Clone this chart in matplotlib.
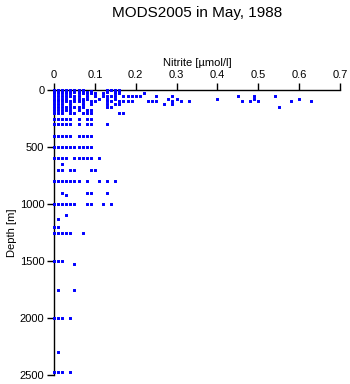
import matplotlib
matplotlib.use("Agg")
import matplotlib.pyplot as plt

plt.rcParams['font.family'] = ['Liberation Sans', 'DejaVu Sans']

title = "MODS2005 in May, 1988"
xlabel = "Nitrite [\u00b5mol/l]"
ylabel = "Depth [m]"
xticks = [0, 0.1, 0.2, 0.3, 0.4, 0.5, 0.6, 0.7]
xticklabels = ["0", "0.1", "0.2", "0.3", "0.4", "0.5", "0.6", "0.7"]
yticks = [0, 500, 1000, 1500, 2000, 2500]

# depth level (m) -> nitrite values (umol/l) observed at that level
depths = [0, 10, 20, 30, 50, 75, 100, 125, 150, 175, 200, 250, 300, 400, 500,
          600, 650, 700, 800, 900, 920, 1000, 1100, 1130, 1200, 1250, 1500,
          1530, 1750, 2000, 2300, 2470]
nitrite = [
    [0, 0.01, 0.02, 0.03, 0.04, 0.05, 0.06, 0.07, 0.13, 0.14, 0.15, 0.16],
    [0, 0.01, 0.02, 0.03, 0.04, 0.05, 0.06, 0.07, 0.09, 0.13, 0.15, 0.16],
    [0, 0.01, 0.02, 0.03, 0.04, 0.05, 0.06, 0.08, 0.09, 0.13, 0.15],
    [0, 0.01, 0.02, 0.03, 0.04, 0.06, 0.07, 0.08, 0.09, 0.10, 0.12, 0.15, 0.16, 0.22],
    [0, 0.01, 0.02, 0.03, 0.04, 0.05, 0.06, 0.08, 0.10, 0.12, 0.13, 0.14, 0.15,
     0.17, 0.18, 0.19, 0.20, 0.21, 0.25, 0.29, 0.45, 0.49, 0.54],
    [0, 0.01, 0.02, 0.03, 0.05, 0.06, 0.07, 0.08, 0.11, 0.13, 0.15, 0.28, 0.30,
     0.40, 0.49, 0.60],
    [0, 0.01, 0.02, 0.03, 0.04, 0.05, 0.06, 0.07, 0.09, 0.10, 0.13, 0.14, 0.16,
     0.17, 0.18, 0.19, 0.23, 0.24, 0.25, 0.29, 0.31, 0.33, 0.46, 0.48, 0.50,
     0.58, 0.63],
    [0, 0.01, 0.02, 0.04, 0.07, 0.09, 0.13, 0.15, 0.16, 0.27, 0.29],
    [0, 0.01, 0.02, 0.03, 0.04, 0.05, 0.06, 0.07, 0.13, 0.14, 0.55],
    [0, 0.01, 0.02, 0.03, 0.04, 0.06, 0.08, 0.09],
    [0, 0.01, 0.02, 0.04, 0.05, 0.07, 0.08, 0.09, 0.16, 0.17],
    [0, 0.01, 0.02, 0.03, 0.04, 0.06, 0.08, 0.09],
    [0, 0.01, 0.02, 0.03, 0.04, 0.06, 0.08, 0.09, 0.13],
    [0, 0.01, 0.02, 0.03, 0.04, 0.06, 0.07, 0.08, 0.09],
    [0, 0.01, 0.02, 0.03, 0.04, 0.05, 0.06, 0.07, 0.08, 0.09],
    [0, 0.01, 0.02, 0.03, 0.05, 0.06, 0.07, 0.08, 0.09, 0.11],
    [0.02],
    [0.01, 0.02, 0.04, 0.05, 0.09, 0.10],
    [0, 0.01, 0.02, 0.03, 0.04, 0.05, 0.06, 0.08, 0.11, 0.13, 0.15],
    [0.02, 0.08, 0.09, 0.13],
    [0.03],
    [0, 0.01, 0.02, 0.03, 0.04, 0.05, 0.08, 0.09, 0.12, 0.14],
    [0.03],
    [0.01],
    [0, 0.01],
    [0, 0.01, 0.02, 0.03, 0.04, 0.07],
    [0, 0.01, 0.02],
    [0.05],
    [0.01, 0.05],
    [0, 0.01, 0.02, 0.04],
    [0.01],
    [0, 0.01, 0.02, 0.04],
]

xs, ys = [], []
for d, vals in zip(depths, nitrite):
    for v in vals:
        xs.append(v)
        ys.append(d)

fig = plt.figure(figsize=(3.5, 3.84), dpi=100)
ax = fig.add_axes([54/350, 1 - 375/384, (340 - 54)/350, (375 - 90)/384])
sc = ax.scatter(xs, ys, s=4.5, marker='s', color='#0000ff', linewidths=0,
                clip_on=False, zorder=3)
sc.set_snap(False)

ax.set_xlim(0, 0.7)
ax.set_ylim(2500, 0)
ax.xaxis.set_ticks_position('top')
ax.xaxis.set_label_position('top')
ax.set_xticks(xticks)
ax.set_xticklabels(xticklabels)
ax.set_yticks(yticks)
for s in ['right', 'bottom']:
    ax.spines[s].set_visible(False)
for s in ['top', 'left']:
    ax.spines[s].set_linewidth(1.0)
ax.tick_params(axis='both', direction='out', length=5, width=1.0, labelsize=8, pad=2)
ax.set_xlabel(xlabel, fontsize=8, labelpad=3)
ax.set_ylabel(ylabel, fontsize=8, labelpad=2)
fig.text(197/350, 1 - 13/384, title, ha='center', va='center', fontsize=11)

fig.savefig("out.png", dpi=100)
